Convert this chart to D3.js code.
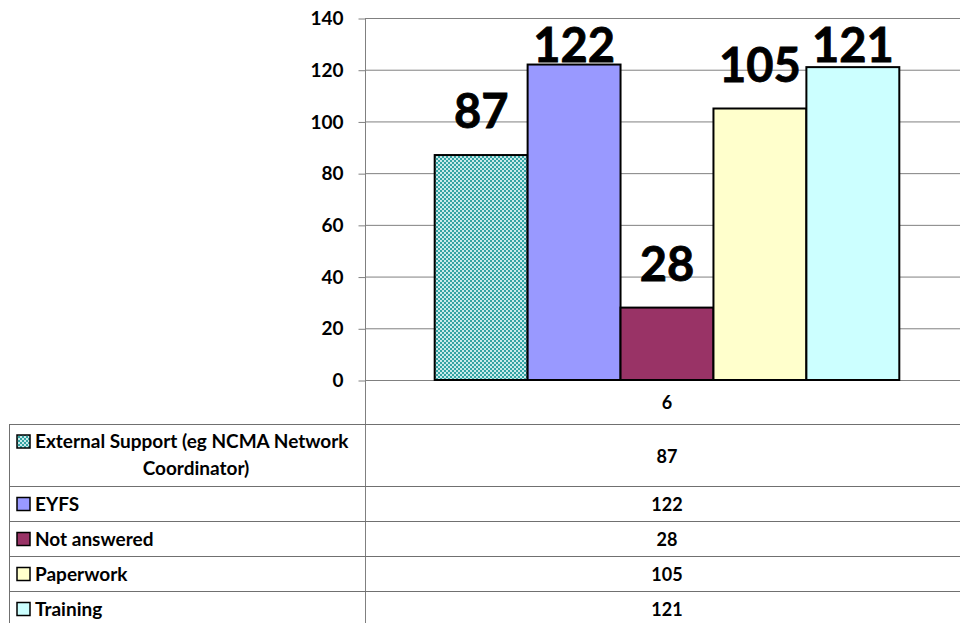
<!DOCTYPE html>
<html>
<head>
<meta charset="utf-8">
<script src="https://cdn.jsdelivr.net/npm/d3@7"></script>
<style>
  body { margin: 0; background: #fff; }
  svg { display: block; font-family: Lato, "Open Sans", sans-serif; font-weight: bold; }
</style>
</head>
<body>
<svg id="chart" width="960" height="623"></svg>
<script>
// Chart data
const categories = ["6"];
const seriesNames = ["External Support (eg NCMA Network Coordinator)", "EYFS", "Not answered", "Paperwork", "Training"];
const seriesValues = [87, 122, 28, 105, 121];
const seriesColors = ["url(#checker)", "#9999FF", "#993366", "#FFFFCC", "#CCFFFF"];
const yTicks = [0, 20, 40, 60, 80, 100, 120, 140];

const svg = d3.select("#chart");
const plot = { left: 365, right: 969, top: 18, bottom: 380 };

// checker fill for the first series
const defs = svg.append("defs");
const pat = defs.append("pattern")
  .attr("id", "checker")
  .attr("width", 4).attr("height", 4)
  .attr("patternUnits", "userSpaceOnUse");
pat.append("rect").attr("width", 4).attr("height", 4).attr("fill", "#33a3a3");
pat.append("rect").attr("x", 0).attr("y", 0).attr("width", 2).attr("height", 2).attr("fill", "#c8eaea");
pat.append("rect").attr("x", 2).attr("y", 2).attr("width", 2).attr("height", 2).attr("fill", "#c8eaea");

const y = d3.scaleLinear().domain([0, 140]).range([plot.bottom, plot.top]);
const xCat = d3.scaleBand().domain(categories).range([plot.left, plot.right]);
const x = d3.scaleBand()
  .domain(seriesNames)
  .range([xCat(categories[0]), xCat(categories[0]) + xCat.bandwidth()])
  .paddingInner(0)
  .paddingOuter(0.75);

// Gridlines
svg.append("g")
  .selectAll("line")
  .data(yTicks)
  .join("line")
  .attr("x1", plot.left).attr("x2", 960)
  .attr("y1", d => y(d) + 0.5).attr("y2", d => y(d) + 0.5)
  .attr("stroke", "#808080")
  .attr("stroke-width", 1);

// Y axis
const yAxis = svg.append("g")
  .attr("transform", `translate(${plot.left + 0.5},0.5)`)
  .call(d3.axisLeft(y).tickValues(yTicks).tickSize(7).tickPadding(15));
yAxis.select(".domain").remove();
yAxis.selectAll(".tick line").attr("stroke", "#808080");
yAxis.selectAll(".tick text")
  .attr("font-family", "Lato, sans-serif")
  .attr("font-weight", "bold")
  .attr("font-size", 19)
  .attr("fill", "#000");

// vertical axis line runs down through the data table
svg.append("line")
  .attr("x1", plot.left + 0.5).attr("x2", plot.left + 0.5)
  .attr("y1", plot.top).attr("y2", 623)
  .attr("stroke", "#808080");

// Bars
svg.append("g")
  .selectAll("rect")
  .data(seriesNames)
  .join("rect")
  .attr("x", d => x(d))
  .attr("y", (d, i) => y(seriesValues[i]))
  .attr("width", x.bandwidth())
  .attr("height", (d, i) => y(0) - y(seriesValues[i]))
  .attr("fill", (d, i) => seriesColors[i])
  .attr("stroke", "#000")
  .attr("stroke-width", 2);

// Value labels above bars (kept inside the plot top)
svg.append("g")
  .selectAll("text")
  .data(seriesNames)
  .join("text")
  .attr("x", d => x(d) + x.bandwidth() / 2)
  .attr("y", (d, i) => Math.max(y(seriesValues[i]) - 27, 62))
  .attr("text-anchor", "middle")
  .attr("font-size", 47)
  .attr("stroke", "#000")
  .attr("stroke-width", 0.8)
  .attr("fill", "#000")
  .text((d, i) => seriesValues[i]);

// Data table below the chart
const tableLeft = 9;
const rowLines = [424, 486, 521, 556, 591];
const rowBottoms = [486, 521, 556, 591, 626];
const tableFont = 19;

svg.append("g")
  .selectAll("line")
  .data(rowLines)
  .join("line")
  .attr("x1", tableLeft).attr("x2", 960)
  .attr("y1", d => d + 0.5).attr("y2", d => d + 0.5)
  .attr("stroke", "#707070");

svg.append("line")
  .attr("x1", tableLeft + 0.5).attr("x2", tableLeft + 0.5)
  .attr("y1", rowLines[0]).attr("y2", 623)
  .attr("stroke", "#707070");

const valueX = xCat(categories[0]) + xCat.bandwidth() / 2;

// category label row
svg.append("text")
  .attr("x", valueX)
  .attr("y", 409)
  .attr("text-anchor", "middle")
  .attr("font-size", 18)
  .text(categories[0]);

const rows = svg.append("g")
  .selectAll("g")
  .data(seriesNames)
  .join("g");

// legend keys
rows.append("rect")
  .attr("x", 17)
  .attr("y", (d, i) => (i === 0 ? 435 : (rowLines[i] + rowBottoms[i]) / 2 - 6))
  .attr("width", 13).attr("height", 13)
  .attr("fill", (d, i) => seriesColors[i])
  .attr("stroke", "#000")
  .attr("stroke-width", 1.5);

// row labels
rows.each(function(d, i) {
  const g = d3.select(this);
  if (i === 0) {
    g.append("text").attr("x", 35).attr("y", 448)
      .attr("font-size", tableFont).text("External Support (eg NCMA Network");
    g.append("text").attr("x", 196).attr("y", 475)
      .attr("text-anchor", "middle")
      .attr("font-size", tableFont).text("Coordinator)");
  } else {
    g.append("text").attr("x", 35)
      .attr("y", (rowLines[i] + rowBottoms[i]) / 2 + 7)
      .attr("font-size", tableFont).text(d);
  }
});

// row values
rows.append("text")
  .attr("x", valueX)
  .attr("y", (d, i) => (i === 0 ? 463 : (rowLines[i] + rowBottoms[i]) / 2 + 7))
  .attr("text-anchor", "middle")
  .attr("font-size", 18)
  .text((d, i) => seriesValues[i]);
</script>
</body>
</html>
